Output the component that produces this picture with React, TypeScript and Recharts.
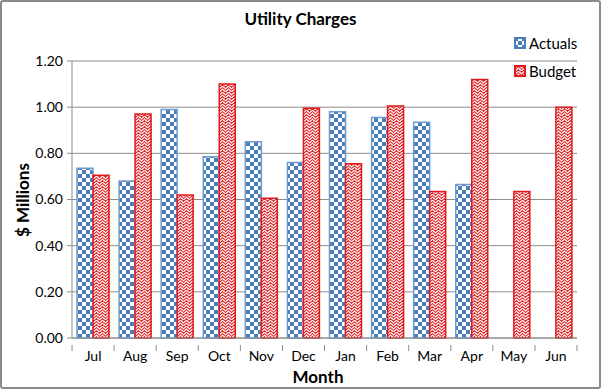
import React from "react";
import { BarChart, Bar, XAxis, YAxis, CartesianGrid } from "recharts";

const months = ["Jul", "Aug", "Sep", "Oct", "Nov", "Dec", "Jan", "Feb", "Mar", "Apr", "May", "Jun"];
const actuals = [0.735, 0.68, 0.99, 0.785, 0.85, 0.76, 0.98, 0.955, 0.935, 0.665, null, null];
const budget = [0.705, 0.97, 0.62, 1.1, 0.605, 0.995, 0.755, 1.005, 0.635, 1.12, 0.635, 1.0];
const yTicks = [0, 0.2, 0.4, 0.6, 0.8, 1.0, 1.2];

const data = months.map((m, i) => ({ month: m, Actuals: actuals[i], Budget: budget[i] }));

const FONT = "Lato, 'Open Sans', sans-serif";
const BLUE = "#4A7EBB";
const RED = "#E0191C";
const GRID = "#8C8C8C";
const BAND = 42;

function MonthTick(props: any) {
  const { x, y, payload, index } = props;
  const left = x - BAND / 2;
  return (
    <g>
      <line x1={left} y1={y - 1} x2={left} y2={y + 5} stroke={GRID} />
      {index === months.length - 1 && (
        <line x1={left + BAND} y1={y - 1} x2={left + BAND} y2={y + 5} stroke={GRID} />
      )}
      <text x={x} y={y + 15} textAnchor="middle" fontSize={14} fill="#000" fontFamily={FONT}>
        {payload.value}
      </text>
    </g>
  );
}

function LegendIcon({ fill, stroke }: { fill: string; stroke: string }) {
  return (
    <svg width={12} height={12} style={{ marginRight: 3 }}>
      <rect x={1} y={1} width={10} height={10} fill={fill} stroke={stroke} strokeWidth={2} />
    </svg>
  );
}

export default function App() {
  return (
    <div
      style={{
        position: "absolute",
        left: 0,
        top: 0,
        width: 597,
        height: 385,
        border: "2px solid #8a8a8a",
        borderRadius: 3,
        background: "#fff",
        fontFamily: FONT,
      }}
    >
      <div
        style={{
          position: "absolute",
          left: 0,
          width: 597,
          top: 6,
          textAlign: "center",
          fontWeight: "bold",
          fontSize: 17,
        }}
      >
        Utility Charges
      </div>
      <svg width={0} height={0} style={{ position: "absolute" }}>
        <defs>
          <pattern id="checker" width={8} height={8} patternUnits="userSpaceOnUse">
            <rect width={8} height={8} fill="#fff" />
            <rect x={0} y={0} width={4} height={4} fill={BLUE} />
            <rect x={4} y={4} width={4} height={4} fill={BLUE} />
          </pattern>
          <pattern id="zigzag" width={6} height={6} patternUnits="userSpaceOnUse">
            <rect width={6} height={6} fill={RED} />
            <polyline points="-1,0 1.5,3 4.5,0 7,3" fill="none" stroke="#fff" strokeWidth={1.1} />
            <polyline points="-1,3 1.5,6 4.5,3 7,6" fill="none" stroke="#fff" strokeWidth={1.1} />
          </pattern>
        </defs>
      </svg>
      <div style={{ position: "absolute", left: 512, top: 32, fontSize: 15, display: "flex", alignItems: "center" }}>
        <LegendIcon fill="url(#checker)" stroke={BLUE} />
        Actuals
      </div>
      <div style={{ position: "absolute", left: 512, top: 60, fontSize: 15, display: "flex", alignItems: "center" }}>
        <LegendIcon fill="url(#zigzag)" stroke={RED} />
        Budget
      </div>
      <div
        style={{
          position: "absolute",
          left: 316 - 40,
          width: 80,
          top: 364,
          textAlign: "center",
          fontWeight: "bold",
          fontSize: 17,
        }}
      >
        Month
      </div>
      <div
        style={{
          position: "absolute",
          left: 20,
          top: 198,
          transform: "translate(-50%, -50%) rotate(-90deg)",
          fontWeight: "bold",
          fontSize: 17,
          whiteSpace: "nowrap",
        }}
      >
        $ Millions
      </div>
      <BarChart
        width={597}
        height={385}
        data={data}
        margin={{ top: 59, right: 22, bottom: 0, left: 0 }}
        barCategoryGap={5}
        barGap={0}
        style={{ position: "absolute", left: 0, top: 0 }}
      >
        <CartesianGrid vertical={false} stroke={GRID} />
        <XAxis
          dataKey="month"
          height={49}
          stroke={GRID}
          tickLine={false}
          tick={<MonthTick />}
          interval={0}
        />
        <YAxis
          domain={[0, 1.2]}
          ticks={yTicks}
          width={70}
          stroke={GRID}
          tickSize={5}
          tickMargin={4}
          tickFormatter={(v: number) => v.toFixed(2)}
          tick={{ fill: "#000", fontSize: 14, fontFamily: FONT }}
        />
        <Bar dataKey="Actuals" fill="url(#checker)" stroke="#6F9BD1" strokeWidth={1.5} isAnimationActive={false} />
        <Bar dataKey="Budget" fill="url(#zigzag)" stroke={RED} strokeWidth={1.5} isAnimationActive={false} />
      </BarChart>
    </div>
  );
}
